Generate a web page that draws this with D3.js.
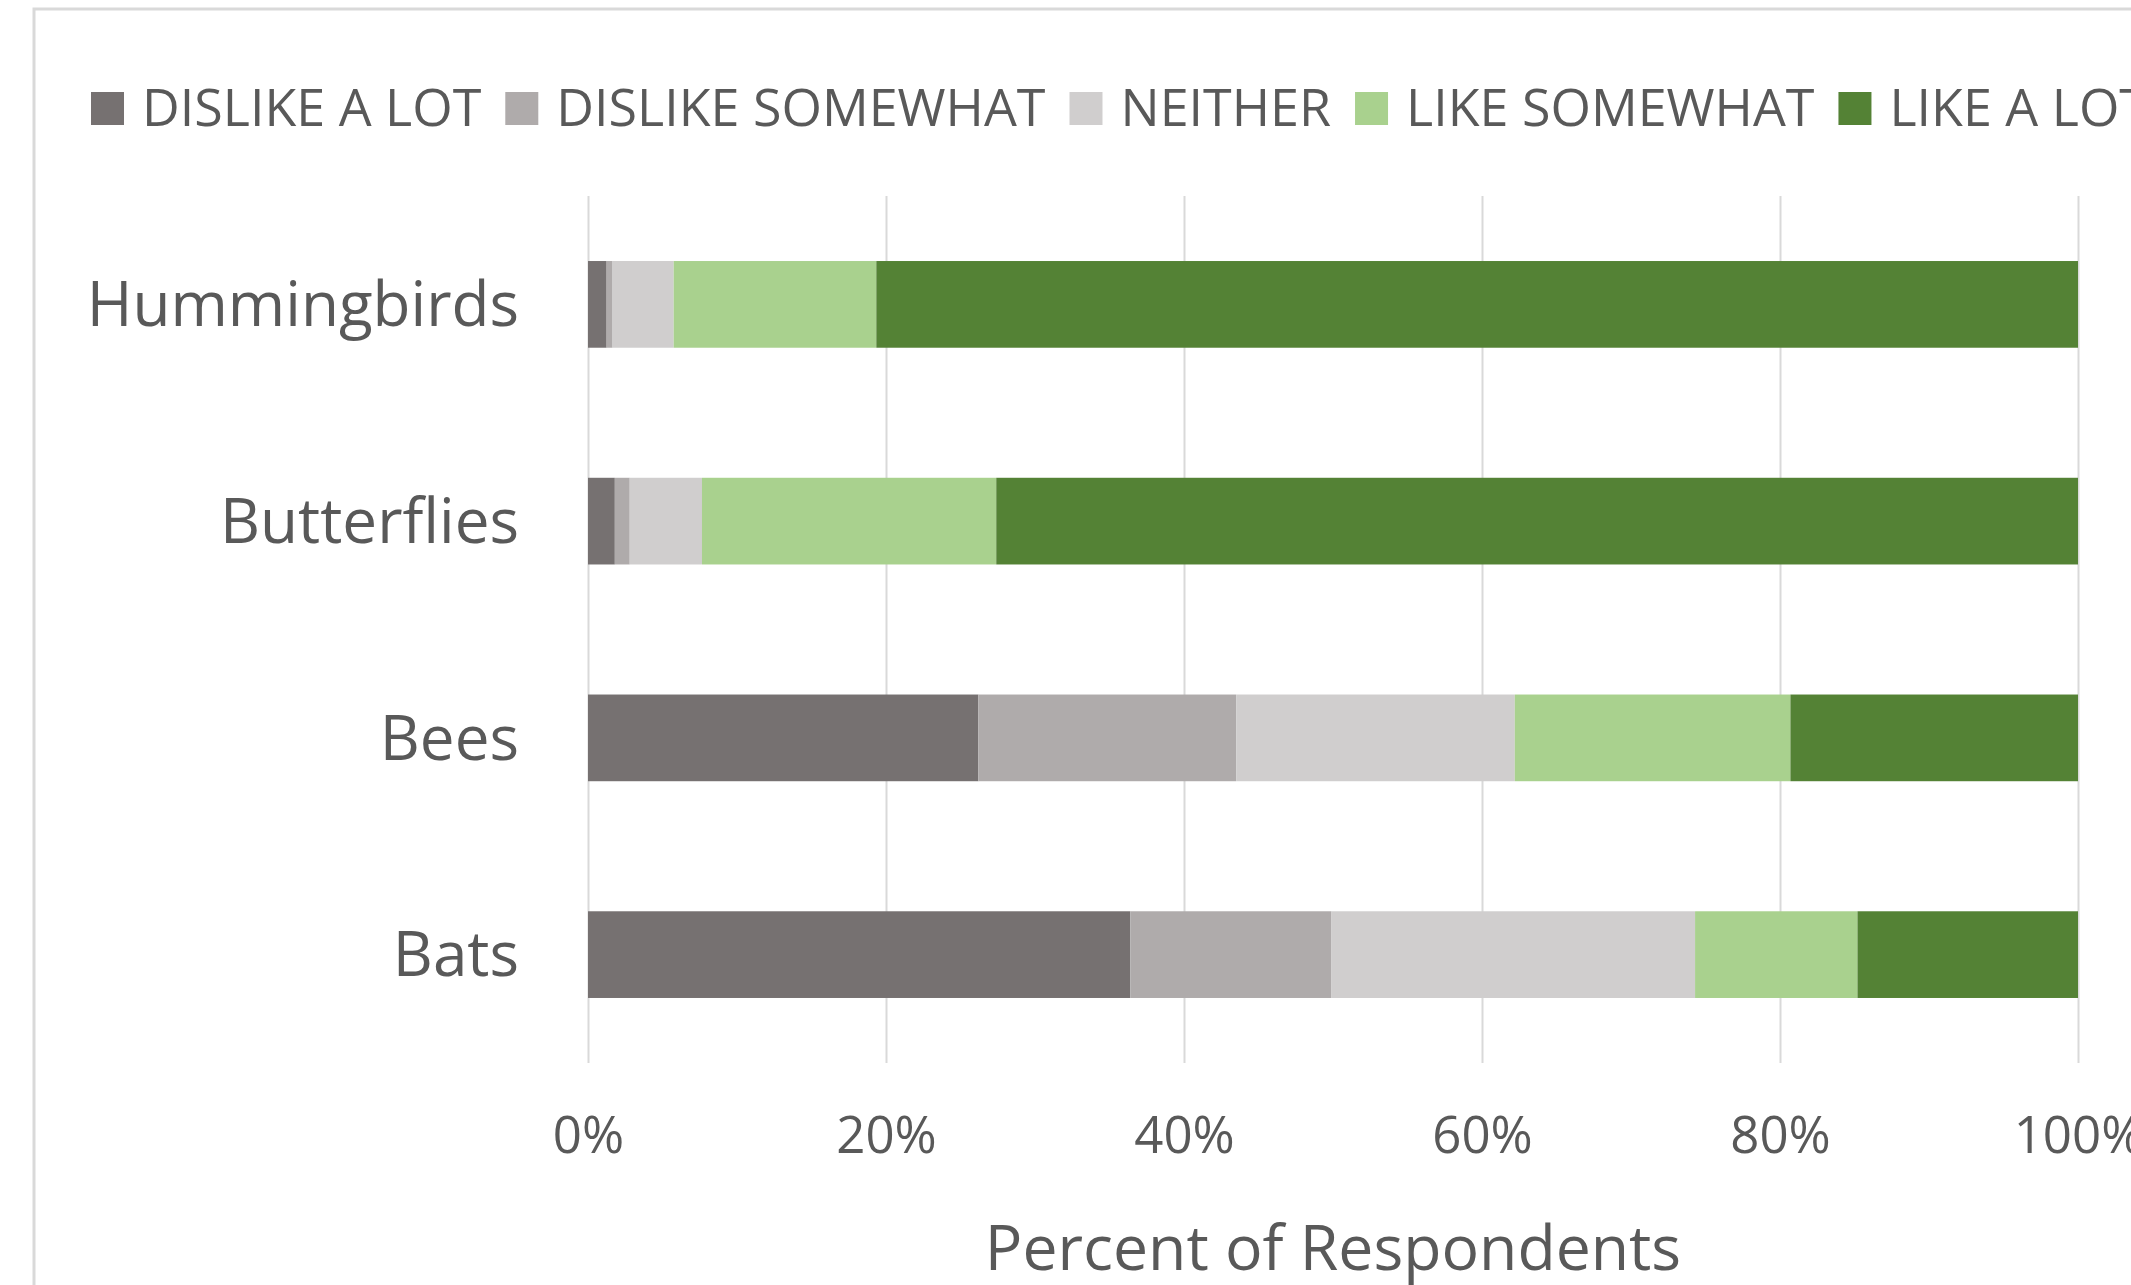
<!DOCTYPE html>
<html>
<head>
<meta charset="utf-8">
<script src="https://cdn.jsdelivr.net/npm/d3@7"></script>
<style>
  body { margin: 0; background: #fff; }
  svg text { font-family: "Open Sans", sans-serif; fill: #595959; }
</style>
</head>
<body>
<svg id="chart"></svg>
<script>
// categories, top to bottom
const animals = ["Hummingbirds", "Butterflies", "Bees", "Bats"];
// response levels (stack order, left to right)
const responses = ["DISLIKE A LOT", "DISLIKE SOMEWHAT", "NEITHER", "LIKE SOMEWHAT", "LIKE A LOT"];
const responseColors = ["#767171", "#AFABAB", "#D0CECE", "#A9D18E", "#548235"];
// percent of respondents per animal, one array per response
const dislikeALot     = [1.25, 1.8, 26.2, 36.4];
const dislikeSomewhat = [0.4, 1.0, 17.3, 13.5];
const neither         = [4.1, 4.85, 18.7, 24.4];
const likeSomewhat    = [13.6, 19.75, 18.5, 10.9];
const likeALot        = [80.65, 72.6, 19.3, 14.8];
const xTicks = [0, 20, 40, 60, 80, 100];

const W = 2131, H = 1285;
const plot = {left: 588, right: 2078, top: 196, bottom: 1063};

const svg = d3.select("#chart").attr("width", W).attr("height", H);

// chart frame (runs off the right and bottom edges, as in the reference)
svg.append("rect")
    .attr("x", 34).attr("y", 9)
    .attr("width", 2300).attr("height", 1500)
    .attr("fill", "none")
    .attr("stroke", "#d9d9d9")
    .attr("stroke-width", 3);

const rows = animals.map((a, i) => ({
    animal: a,
    "DISLIKE A LOT": dislikeALot[i],
    "DISLIKE SOMEWHAT": dislikeSomewhat[i],
    "NEITHER": neither[i],
    "LIKE SOMEWHAT": likeSomewhat[i],
    "LIKE A LOT": likeALot[i]
}));

const stacked = d3.stack().keys(responses)(rows);

const x = d3.scaleLinear().domain([0, 100]).range([plot.left, plot.right]);
const y = d3.scaleBand().domain(animals).range([plot.top, plot.bottom])
    .paddingInner(0.6).paddingOuter(0.3);
const color = d3.scaleOrdinal().domain(responses).range(responseColors);

// vertical gridlines
const grid = svg.append("g")
    .attr("transform", `translate(0,${plot.bottom})`)
    .call(d3.axisBottom(x).tickValues(xTicks).tickSize(-(plot.bottom - plot.top)).tickFormat(""));
grid.select(".domain").remove();
grid.selectAll("line").attr("stroke", "#d9d9d9").attr("stroke-width", 2);

// stacked bars
svg.append("g").selectAll("g")
    .data(stacked)
    .join("g")
    .attr("fill", d => color(d.key))
    .selectAll("rect")
    .data(d => d)
    .join("rect")
    .attr("x", d => x(d[0]))
    .attr("y", d => y(d.data.animal))
    .attr("width", d => x(d[1]) - x(d[0]))
    .attr("height", y.bandwidth());

// x tick labels
const xAxis = svg.append("g")
    .attr("transform", `translate(0,1153)`)
    .call(d3.axisBottom(x).tickValues(xTicks).tickSize(0).tickPadding(0).tickFormat(d => d + "%"));
xAxis.select(".domain").remove();
xAxis.selectAll("text").attr("font-size", 51).attr("dy", 0).attr("fill", "#595959");

// category labels
const yAxis = svg.append("g")
    .attr("transform", `translate(519,0)`)
    .call(d3.axisLeft(y).tickSize(0).tickPadding(0));
yAxis.select(".domain").remove();
yAxis.selectAll("text").attr("font-size", 62).attr("dy", "0.35em").attr("fill", "#595959");

// axis title
svg.append("text")
    .attr("x", (plot.left + plot.right) / 2)
    .attr("y", 1270)
    .attr("text-anchor", "middle")
    .attr("font-size", 62.5)
    .text("Percent of Respondents");

// legend, laid out left to right
const legend = svg.append("g");
let lx = 91;
responses.forEach((r, i) => {
    legend.append("rect")
        .attr("x", lx).attr("y", 92)
        .attr("width", 33).attr("height", 33)
        .attr("fill", responseColors[i]);
    const t = legend.append("text")
        .attr("x", lx + 51)
        .attr("y", 126)
        .attr("font-size", 52)
        .text(r);
    lx += 51 + t.node().getComputedTextLength() + 24;
});
</script>
</body>
</html>
